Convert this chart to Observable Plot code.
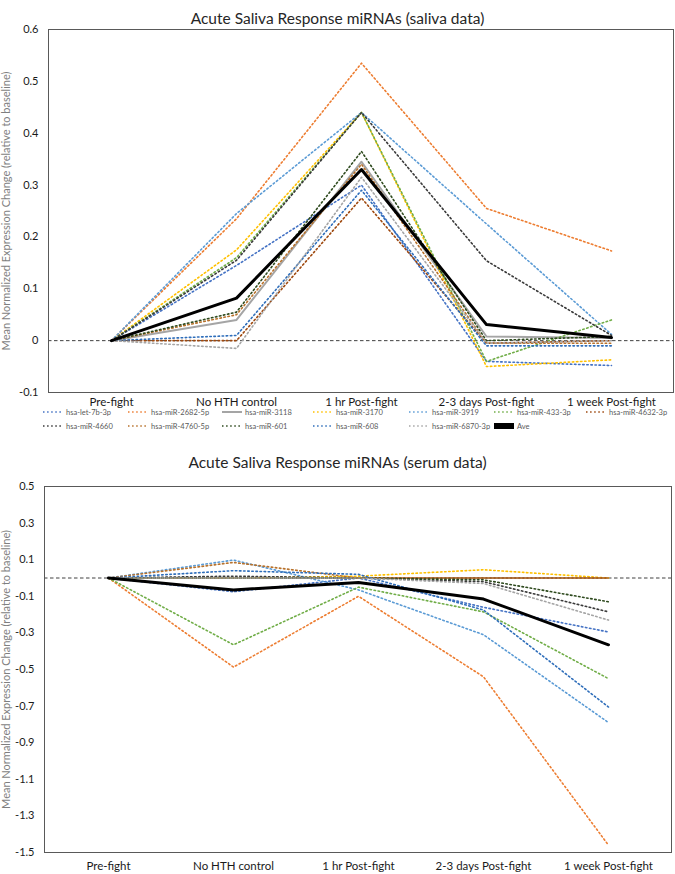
<!DOCTYPE html>
<html>
<head>
<meta charset="utf-8">
<script src="https://cdn.jsdelivr.net/npm/d3@7"></script>
<script src="https://cdn.jsdelivr.net/npm/@observablehq/plot@0.6"></script>
<style>
  body { margin: 0; background: #fff; font-family: Lato, "Open Sans", sans-serif; }
  #page { width: 675px; }
  .title { text-align: center; font-size: 15.5px; color: #262626; line-height: 18px; }
  .legend { position: relative; height: 28px; font-size: 7.5px; color: #595959; }
  .item { position: absolute; display: flex; align-items: center; height: 14px; }
  .item svg { margin-right: 3px; }
  svg { display: block; overflow: visible; }
</style>
</head>
<body>
<div id="page"></div>
<script>
const categories = ["Pre-fight", "No HTH control", "1 hr Post-fight", "2-3 days Post-fight", "1 week Post-fight"];
const seriesNames = ["hsa-let-7b-3p", "hsa-miR-2682-5p", "hsa-miR-3118", "hsa-miR-3170", "hsa-miR-3919", "hsa-miR-433-3p", "hsa-miR-4632-3p",
  "hsa-miR-4660", "hsa-miR-4760-5p", "hsa-miR-601", "hsa-miR-608", "hsa-miR-6870-3p", "Ave"];
const seriesColors = ["#4472C4", "#ED7D31", "#A5A5A5", "#FFC000", "#5B9BD5", "#70AD47", "#9E480E",
  "#3A3A3A", "#B8722C", "#2E4A1E", "#2F6EBA", "#A5A5A5", "#000000"];
const seriesStyle = ["dot", "dot", "solid", "dot", "dot", "dot", "dot", "dot", "dot", "dot", "dot", "dot", "bold"];

const salivaValues = [
  [0, 0.145, 0.30, -0.04, -0.048],
  [0, 0.235, 0.535, 0.255, 0.173],
  [0, 0.04, 0.345, 0.008, 0.005],
  [0, 0.175, 0.44, -0.05, -0.037],
  [0, 0.245, 0.44, 0.225, 0.012],
  [0, 0.16, 0.44, -0.04, 0.04],
  [0, 0.0, 0.275, -0.005, 0.0],
  [0, 0.155, 0.44, 0.154, 0.01],
  [0, 0.05, 0.34, -0.005, -0.005],
  [0, 0.055, 0.365, 0.0, 0.008],
  [0, 0.01, 0.29, -0.01, -0.01],
  [0, -0.015, 0.315, -0.005, 0.0],
  [0, 0.082, 0.33, 0.031, 0.006]
];
const serumValues = [
  [0, -0.075, 0.0, -0.16, -0.295],
  [0, -0.487, -0.10, -0.54, -1.46],
  [0, 0, 0, 0, 0],
  [0, 0.0, 0.01, 0.045, 0.0],
  [0, 0.098, -0.065, -0.31, -0.79],
  [0, -0.365, -0.05, -0.185, -0.55],
  [0, 0.0, 0.0, 0.0, 0.0],
  [0, 0.01, 0.0, -0.02, -0.185],
  [0, 0.085, 0.0, 0.0, 0.0],
  [0, 0.0, 0.0, -0.01, -0.13],
  [0, 0.04, 0.02, -0.175, -0.705],
  [0, 0.0, 0.0, -0.03, -0.23],
  [0, -0.065, -0.025, -0.115, -0.365]
];
const salivaTicks = [0.6, 0.5, 0.4, 0.3, 0.2, 0.1, 0, -0.1];
const serumTicks = [0.5, 0.3, 0.1, -0.1, -0.3, -0.5, -0.7, -0.9, -1.1, -1.3, -1.5];
const title1 = "Acute Saliva Response miRNAs (saliva data)";
const title2 = "Acute Saliva Response miRNAs (serum data)";
const yLabel = "Mean Normalized Expression Change (relative to baseline)";

function lineStyle(i) {
  const s = seriesStyle[i];
  if (s === "bold") return {strokeWidth: 3};
  if (s === "solid") return {strokeWidth: 2};
  return {strokeWidth: 1.6, strokeDasharray: "1.5,2.6"};
}

function makeChart(values, domain, ticks, opts) {
  const data = [];
  seriesNames.forEach((s, i) => categories.forEach((c, j) => data.push({series: s, i, cat: c, value: values[i][j]})));
  const fmt = d => d === 0 ? "0" : d3.format(".1f")(d).replace("−", "-");
  const marks = [
    Plot.ruleY([0], {stroke: "#404040", strokeWidth: 1, strokeDasharray: "3.5,2.5"}),
    ...seriesNames.map((s, i) => Plot.line(data.filter(d => d.i === i), {
      x: "cat", y: "value", stroke: seriesColors[i], ...lineStyle(i)
    })),
    Plot.frame({stroke: "#595959", strokeWidth: 1}),
    Plot.axisX({tickSize: 0, tickPadding: opts.xPad, fontSize: 11.5, fill: "#1a1a1a", label: null}),
    Plot.axisY({ticks, tickFormat: fmt, tickSize: 0, tickPadding: 10, fontSize: 11, fill: "#1a1a1a", label: null}),
    Plot.axisY({ticks: [], label: yLabel, labelAnchor: "center", labelArrow: "none", labelOffset: opts.labelOffset, fontSize: 11, fill: "#7f7f7f"})
  ];
  return Plot.plot({
    width: 675,
    height: opts.height,
    marginLeft: opts.marginLeft,
    marginRight: opts.marginRight,
    marginTop: opts.marginTop,
    marginBottom: opts.marginBottom,
    style: {fontFamily: "Lato, 'Open Sans', sans-serif", background: "#fff", overflow: "visible"},
    x: {type: "point", domain: categories, padding: 0.5},
    y: {domain, label: null},
    marks
  });
}

function makeLegend() {
  const div = document.createElement("div");
  div.className = "legend";
  const lefts = [43, 128, 222, 313, 409, 494, 586];
  seriesNames.forEach((s, i) => {
    const row = i < 7 ? 0 : 1;
    const col = i < 7 ? i : i - 7;
    const item = document.createElement("div");
    item.className = "item";
    item.style.left = lefts[col] + "px";
    item.style.top = (row * 14) + "px";
    const st = lineStyle(i);
    const sw = seriesStyle[i] === "bold" ? 6 : st.strokeWidth;
    item.innerHTML = `<svg width="20" height="8"><line x1="0" x2="20" y1="4" y2="4" stroke="${seriesColors[i]}" stroke-width="${sw}" ${st.strokeDasharray ? `stroke-dasharray="${st.strokeDasharray}"` : ""}/></svg><span>${s}</span>`;
    div.appendChild(item);
  });
  return div;
}

const page = document.getElementById("page");
const t1 = document.createElement("div");
t1.className = "title"; t1.style.paddingTop = "9px"; t1.style.height = "15px"; t1.textContent = title1;
page.appendChild(t1);
page.appendChild(makeChart(salivaValues, [-0.1, 0.6], salivaTicks,
  {height: 381, marginLeft: 48, marginRight: 2, marginTop: 5, marginBottom: 13, xPad: 5, labelOffset: 46}));
page.appendChild(makeLegend());
const t2 = document.createElement("div");
t2.className = "title"; t2.style.paddingTop = "20px"; t2.style.height = "23px"; t2.textContent = title2;
page.appendChild(t2);
page.appendChild(makeChart(serumValues, [-1.5, 0.5], serumTicks,
  {height: 398, marginLeft: 44, marginRight: 4, marginTop: 10, marginBottom: 22, xPad: 9, labelOffset: 42}));
</script>
</body>
</html>
